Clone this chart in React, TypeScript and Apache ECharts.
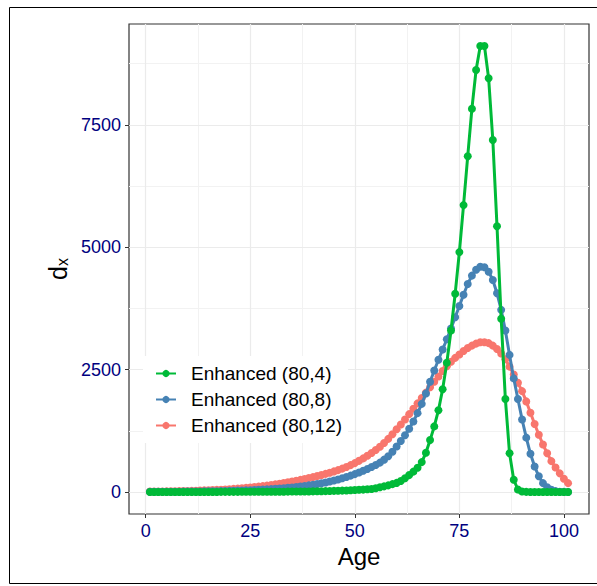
import React, { useEffect, useRef } from "react";
import * as echarts from "echarts";

const ages: number[] = Array.from({ length: 101 }, (_, i) => i + 1);

const green80_4: number[] = [
  0, 0, 0, 0, 0, 0, 0, 0, 0, 1,
  1, 1, 1, 1, 1, 1, 1, 2, 2, 2,
  2, 2, 3, 3, 3, 3, 4, 4, 4, 5,
  5, 6, 6, 7, 8, 8, 9, 10, 11, 12,
  14, 15, 17, 19, 22, 24, 27, 30, 34, 40,
  44, 48, 54, 60, 75, 95, 115, 135, 160, 185,
  225, 280, 345, 415, 495, 610, 800, 1060, 1340, 1670,
  2100, 2640, 3300, 4050, 4900, 5860, 6860, 7830, 8620, 9110,
  9110, 8450, 7190, 5430, 3540, 1900, 790, 250, 50, 8,
  2, 1, 0, 0, 0, 0, 0, 0, 0, 0,
  0,
];

const blue80_8: number[] = [
  3, 3, 4, 4, 5, 5, 6, 6, 7, 8,
  9, 10, 11, 12, 13, 15, 16, 18, 20, 22,
  24, 27, 30, 33, 36, 40, 44, 48, 53, 58,
  64, 70, 77, 85, 93, 102, 112, 123, 135, 148,
  162, 178, 195, 214, 234, 256, 280, 306, 334, 365,
  398, 433, 470, 510, 550, 600, 660, 730, 820, 930,
  1040, 1160, 1290, 1440, 1610, 1800, 2010, 2250, 2480, 2700,
  2910, 3120, 3340, 3570, 3800, 4030, 4250, 4420, 4540, 4600,
  4590, 4500, 4330, 4060, 3720, 3300, 2800, 2320, 1900, 1480,
  1110, 780, 520, 320, 180, 95, 45, 18, 6, 2,
  1,
];

const red80_12: number[] = [
  8, 9, 10, 11, 12, 14, 15, 17, 19, 21,
  23, 26, 29, 32, 35, 39, 43, 47, 52, 57,
  63, 69, 76, 83, 91, 100, 109, 119, 130, 142,
  155, 168, 182, 197, 213, 230, 247, 265, 284, 304,
  325, 347, 370, 394, 420, 447, 477, 510, 548, 590,
  636, 686, 740, 797, 858, 925, 1000, 1085, 1180, 1280,
  1380, 1480, 1590, 1700, 1810, 1920, 2030, 2140, 2250, 2360,
  2470, 2570, 2660, 2740, 2810, 2880, 2940, 2990, 3030, 3060,
  3060, 3040, 2990, 2920, 2830, 2710, 2560, 2400, 2230, 2060,
  1850, 1620, 1390, 1170, 970, 790, 630, 500, 380, 270,
  180,
];

const seriesNames: string[] = ["Enhanced (80,4)", "Enhanced (80,8)", "Enhanced (80,12)"];
const seriesColors: string[] = ["#00BA38", "#4682B4", "#F8766D"];

const xTicks: number[] = [0, 25, 50, 75, 100];
const xMinor: number[] = [12.5, 37.5, 62.5, 87.5];
const yTicks: number[] = [0, 2500, 5000, 7500];
const yMinor: number[] = [1250, 3750, 6250, 8750];

const FONT = "'Liberation Sans', Arial, Helvetica, sans-serif";
const NAVY = "#000080";

export default function App() {
  const ref = useRef<HTMLDivElement>(null);
  useEffect(() => {
    if (!ref.current) return;
    const chart = echarts.init(ref.current, undefined, { renderer: "svg" });
    const seriesData = [green80_4, blue80_8, red80_12];
    const lineSeries = [2, 1, 0].map((k) => ({
      type: "line",
      name: seriesNames[k],
      data: ages.map((a, i) => [a, seriesData[k][i]]),
      symbol: "circle",
      symbolSize: 8,
      showSymbol: true,
      color: seriesColors[k],
      lineStyle: { width: 3, color: seriesColors[k] },
      itemStyle: { color: seriesColors[k] },
      z: 3 + (2 - k),
    }));
    const gridSeries = {
      type: "line",
      name: "grid",
      data: [],
      silent: true,
      z: 1,
      markLine: {
        silent: true,
        z: 1,
        symbol: ["none", "none"],
        label: { show: false },
        animation: false,
        data: [
          ...xMinor.map((v) => ({ xAxis: v, lineStyle: { color: "#F2F2F2", width: 1, type: "solid" } })),
          ...yMinor.map((v) => ({ yAxis: v, lineStyle: { color: "#F2F2F2", width: 1, type: "solid" } })),
          ...xTicks.map((v) => ({ xAxis: v, lineStyle: { color: "#EBEBEB", width: 1.2, type: "solid" } })),
          ...yTicks.map((v) => ({ yAxis: v, lineStyle: { color: "#EBEBEB", width: 1.2, type: "solid" } })),
        ],
      },
    };
    chart.setOption({
      animation: false,
      backgroundColor: "#ffffff",
      textStyle: { fontFamily: FONT },
      grid: {
        left: 129,
        right: 8,
        top: 24,
        bottom: 72,
        show: true,
        borderColor: "#333333",
        borderWidth: 1.2,
        backgroundColor: "#ffffff",
      },
      xAxis: {
        type: "value",
        min: -4,
        max: 106,
        name: "Age",
        nameLocation: "middle",
        nameGap: 19,
        nameTextStyle: { fontSize: 24, color: "#000000", fontFamily: FONT },
        axisLine: { show: false, onZero: false },
        axisTick: { show: true, length: 4, customValues: xTicks, lineStyle: { color: "#333333", width: 1 } },
        axisLabel: {
          customValues: xTicks,
          fontSize: 18,
          color: NAVY,
          margin: 8,
          fontFamily: FONT,
          formatter: (v: number) => String(v),
        },
        splitLine: { show: false },
      },
      yAxis: {
        type: "value",
        min: -450,
        max: 9560,
        name: "{d|d}{x|x}",
        nameLocation: "middle",
        nameGap: 52,
        nameTextStyle: {
          color: "#000000",
          fontFamily: FONT,
          rich: {
            d: { fontSize: 25, fontFamily: FONT, color: "#000" },
            x: { fontSize: 16, fontFamily: FONT, color: "#000", verticalAlign: "bottom", padding: [6, 0, 0, 0] },
          },
        },
        axisLine: { show: false, onZero: false },
        axisTick: { show: true, length: 4, customValues: yTicks, lineStyle: { color: "#333333", width: 1 } },
        axisLabel: {
          customValues: yTicks,
          fontSize: 18,
          color: NAVY,
          margin: 8,
          fontFamily: FONT,
          formatter: (v: number) => String(v),
        },
        splitLine: { show: false },
      },
      legend: {
        data: seriesNames,
        orient: "vertical",
        left: 143,
        top: 356,
        z: 10,
        padding: [8, 6, 8, 12],
        backgroundColor: "#ffffff",
        itemWidth: 20,
        itemHeight: 9,
        itemGap: 7,
        textStyle: { fontSize: 19, color: "#000000", fontFamily: FONT, padding: [0, 0, 0, 10] },
      },
      graphic: [
        {
          type: "rect",
          shape: { x: 9.5, y: 7.5, width: 620, height: 576 },
          style: { fill: "none", stroke: "#000000", lineWidth: 1 },
          silent: true,
          z: 100,
        },
      ],
      series: [gridSeries, ...lineSeries],
    });
    return () => chart.dispose();
  }, []);
  return (
    <div
      ref={ref}
      style={{ position: "absolute", left: 0, top: 0, width: 597, height: 586 }}
    />
  );
}
